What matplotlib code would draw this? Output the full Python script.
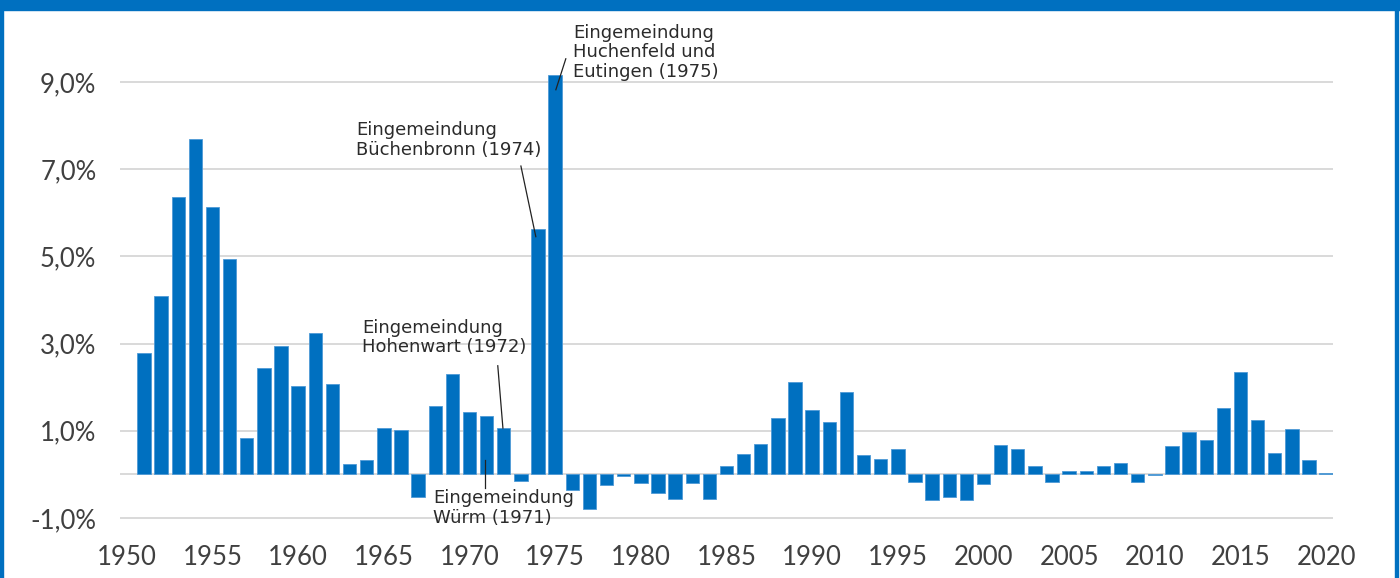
import matplotlib
matplotlib.use("Agg")
import matplotlib.pyplot as plt
from matplotlib.patches import Rectangle
from matplotlib.ticker import FuncFormatter

# Bevölkerungsentwicklung, Veränderung zum Vorjahr in %
years = list(range(1951, 2021))
change = [
    2.79, 4.08, 6.35, 7.69, 6.13, 4.94, 0.83, 2.44, 2.94, 2.03,   # 1951-1960
    3.25, 2.07, 0.24, 0.33, 1.06, 1.01, -0.52, 1.57, 2.30, 1.43,  # 1961-1970
    1.33, 1.06, -0.16, 5.63, 9.16, -0.35, -0.80, -0.25, -0.03, -0.20,  # 1971-1980
    -0.43, -0.57, -0.20, -0.57, 0.19, 0.46, 0.70, 1.29, 2.12, 1.47,  # 1981-1990
    1.19, 1.88, 0.45, 0.36, 0.59, -0.18, -0.60, -0.51, -0.60, -0.23,  # 1991-2000
    0.68, 0.59, 0.18, -0.18, 0.08, 0.08, 0.18, 0.27, -0.18, -0.02,  # 2001-2010
    0.64, 0.96, 0.78, 1.52, 2.35, 1.24, 0.50, 1.05, 0.32, 0.04,   # 2011-2020
]
y_ticks = [-1, 1, 3, 5, 7, 9]
x_ticks = [1950, 1955, 1960, 1965, 1970, 1975, 1980, 1985, 1990, 1995,
           2000, 2005, 2010, 2015, 2020]

# Anmerkungen: Text, Textposition, Linie von / bis
notes = [
    ("Eingemeindung\nBüchenbronn (1974)", (1963.4, 8.1), ((1973.0, 7.07), (1973.87, 5.45))),
    ("Eingemeindung\nHuchenfeld und\nEutingen (1975)", (1976.03, 10.33), ((1975.62, 9.53), (1975.04, 8.82))),
    ("Eingemeindung\nHohenwart (1972)", (1963.72, 3.56), ((1971.65, 2.49), (1971.95, 1.06))),
    ("Eingemeindung\nWürm (1971)", (1967.86, -0.34), ((1970.9, 0.33), (1970.9, -0.31))),
]

blue = "#0070c0"
grid_col = "#d9d9d9"
text_col = "#404040"

W, H = 1400, 578
fig = plt.figure(figsize=(W / 100, H / 100), dpi=100)

# Achsenposition in Pixeln
left_px, right_px = 120, 1333
top_px, bottom_px = 60.1, 531.0
ax = fig.add_axes([left_px / W, 1 - bottom_px / H,
                   (right_px - left_px) / W, (bottom_px - top_px) / H])

ax.bar(years, change, width=0.78, color=blue, edgecolor="#4f9ad6", linewidth=0.6, zorder=3)

for v in y_ticks + [0]:
    ax.axhline(v, color=grid_col, linewidth=1.4, zorder=1)

ax.set_xlim(1949.6, 2020.4)
ax.set_ylim(-1.3, 9.5)
ax.set_yticks(y_ticks)
ax.set_xticks(x_ticks)
ax.yaxis.set_major_formatter(FuncFormatter(lambda v, p: f"{v:.1f}%".replace(".", ",")))
ax.tick_params(length=0, labelsize=18.5, labelcolor=text_col)
ax.tick_params(axis="y", pad=17)
ax.tick_params(axis="x", pad=10)
for lab in ax.get_xticklabels() + ax.get_yticklabels():
    lab.set_family(["Lato", "DejaVu Sans"])
for s in ax.spines.values():
    s.set_visible(False)

for txt, pos, (p0, p1) in notes:
    ax.text(pos[0], pos[1], txt, ha="left", va="top", fontsize=13, family="DejaVu Sans",
            color="#2b2b2b", linespacing=1.1, zorder=5, clip_on=False)
    ax.plot([p0[0], p1[0]], [p0[1], p1[1]], color="#222222", linewidth=0.9,
            zorder=6, clip_on=False)

# blauer Rahmen
fig.add_artist(Rectangle((0, 1 - 10 / H), 1, 10 / H, transform=fig.transFigure,
                         color=blue, zorder=10))
fig.add_artist(Rectangle((0, 0), 3 / W, 1, transform=fig.transFigure, color=blue, zorder=10))
fig.add_artist(Rectangle((1395 / W, 0), 3 / W, 1, transform=fig.transFigure, color=blue, zorder=10))

fig.savefig("out.png", dpi=100)
